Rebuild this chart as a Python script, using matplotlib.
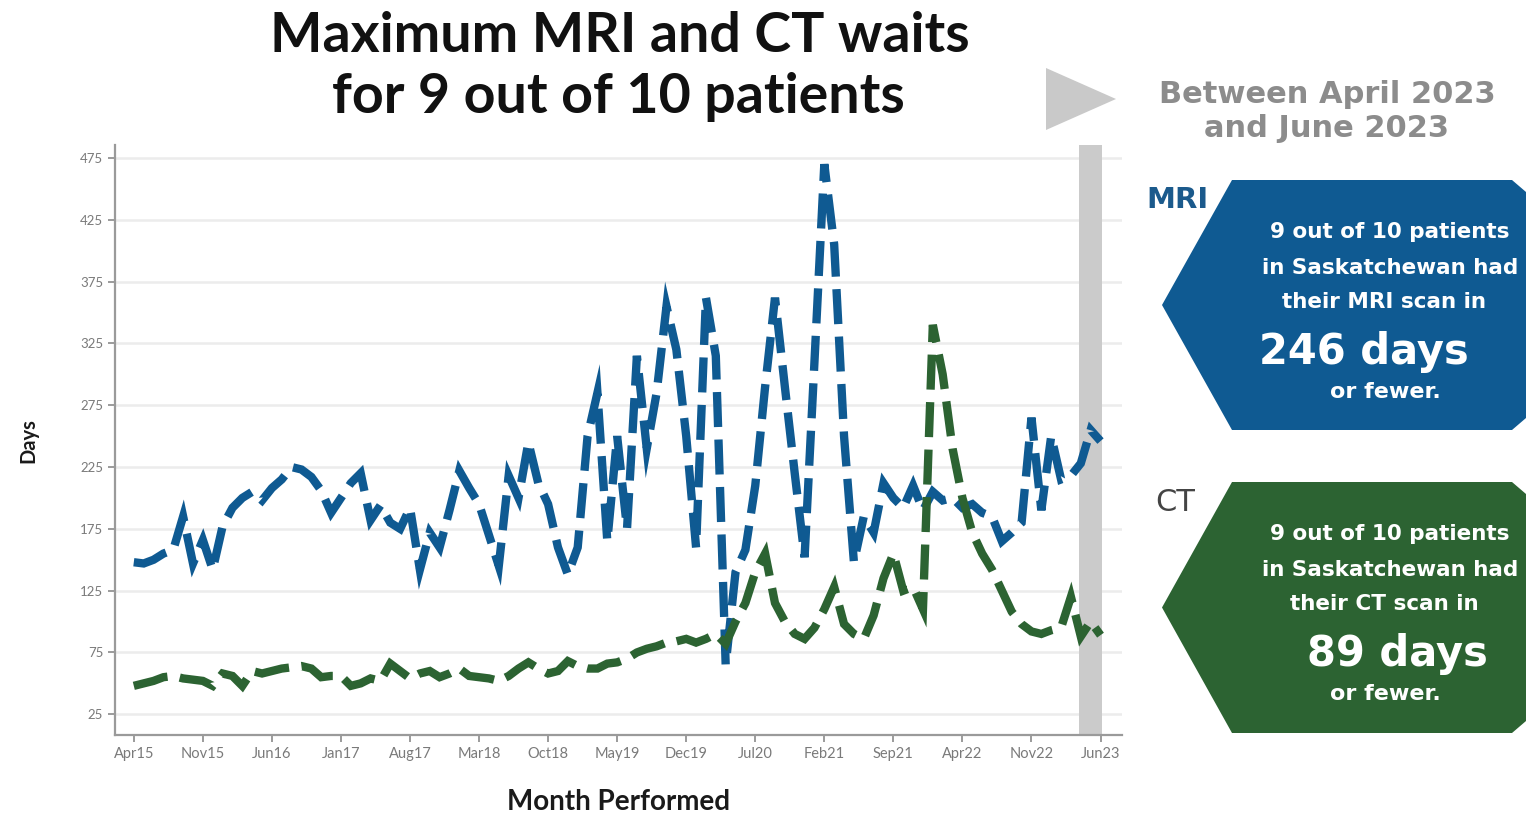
import matplotlib
matplotlib.use("Agg")
import matplotlib.pyplot as plt
from matplotlib.patches import Polygon
import numpy as np

# monthly values, Apr 2015 .. Jun 2023 (99 months)
mri_days = [148, 147, 150, 155, 158, 185, 147, 166, 142, 177,
            192, 200, 205, 198, 208, 215, 225, 223, 217, 206,
            188, 200, 212, 220, 182, 194, 180, 175, 192, 142,
            172, 160, 190, 222, 208, 195, 170, 145, 218, 200,
            245, 212, 195, 160, 138, 160, 250, 285, 165, 250,
            175, 315, 240, 285, 355, 320, 250, 160, 362, 315,
            65, 140, 158, 210, 290, 362, 290, 220, 152, 310,
            470, 405, 250, 148, 185, 172, 212, 200, 192, 210,
            190, 205, 198, 200, 192, 195, 188, 185, 165, 172,
            180, 265, 190, 250, 215, 218, 228, 255, 246]
ct_days = [48, 50, 52, 55, 56, 54, 53, 52, 48, 58,
           56, 48, 60, 58, 60, 62, 63, 64, 62, 55,
           56, 56, 48, 50, 54, 52, 66, 60, 54, 58,
           60, 55, 58, 62, 56, 55, 54, 52, 56, 62,
           67, 62, 58, 60, 68, 64, 62, 62, 66, 67,
           70, 75, 78, 80, 83, 84, 86, 83, 86, 90,
           82, 100, 115, 140, 155, 115, 100, 90, 86, 95,
           110, 128, 98, 90, 86, 105, 135, 155, 125, 128,
           110, 340, 300, 240, 200, 172, 155, 142, 125, 108,
           98, 92, 90, 93, 95, 120, 88, 100, 89]
tick_labels = ["Apr15", "Nov15", "Jun16", "Jan17", "Aug17", "Mar18", "Oct18", "May19",
               "Dec19", "Jul20", "Feb21", "Sep21", "Apr22", "Nov22", "Jun23"]
y_ticks = [25, 75, 125, 175, 225, 275, 325, 375, 425, 475]
latest_mri = 246
latest_ct = 89

BLUE = "#0f5a92"
GREEN = "#2c6332"

months = np.arange(len(mri_days))

fig = plt.figure(figsize=(15.26, 8.17), dpi=100)
ax = fig.add_axes([0.0754, 0.100, 0.660, 0.7225])

# shaded latest quarter
ax.axvspan(months[-3] - 0.15, months[-1] + 0.2, color="#cbcbcb", zorder=1, lw=0)

dash = (0, (4.2, 1.5))
ax.plot(months, mri_days, color=BLUE, lw=6, linestyle=dash,
        solid_joinstyle="miter", dash_joinstyle="miter", dash_capstyle="butt", zorder=3)
ax.plot(months, ct_days, color=GREEN, lw=6, linestyle=dash,
        solid_joinstyle="miter", dash_joinstyle="miter", dash_capstyle="butt", zorder=4)

ax.set_xlim(-1.9, 100.2)
ax.set_ylim(8, 485.5)
ax.set_yticks(y_ticks)
ax.set_yticklabels([str(v) for v in y_ticks])
ax.set_xticks(months[::7])
ax.set_xticklabels(tick_labels)
ax.grid(axis="y", color="#ececec", lw=1.8, zorder=0)
ax.set_axisbelow(True)
for s in ["top", "right"]:
    ax.spines[s].set_visible(False)
for s in ["left", "bottom"]:
    ax.spines[s].set_color("#9a9a9a")
    ax.spines[s].set_linewidth(1.6)
ax.tick_params(axis="both", colors="#8a8a8a", labelcolor="#7a7a7a", length=5, width=1.2)
for lab in ax.get_xticklabels():
    lab.set_family("Lato")
    lab.set_fontsize(10.5)
for lab in ax.get_yticklabels():
    lab.set_family("Lato")
    lab.set_fontsize(9.5)
ax.set_xlabel("Month Performed", family="Lato", fontweight="bold", fontsize=20,
              color="#1a1a1a", labelpad=20)
ax.set_ylabel("Days", family="Lato", fontweight="bold", fontsize=14.5,
              color="#1a1a1a", labelpad=30)

# overlay in pixel coordinates for title and right-hand panel
ov = fig.add_axes([0, 0, 1, 1], zorder=5)
ov.set_xlim(0, 1526)
ov.set_ylim(817, 0)
ov.axis("off")
ov.patch.set_alpha(0)

ov.text(620, 36, "Maximum MRI and CT waits", ha="center", va="center",
        family="Lato", fontweight="bold", fontsize=40, color="#111111")
ov.text(618, 97, "for 9 out of 10 patients", ha="center", va="center",
        family="Lato", fontweight="bold", fontsize=40, color="#111111")

ov.add_patch(Polygon([(1046, 68), (1116, 99), (1046, 130)], closed=True,
                     color="#c9c9c9", lw=0))
ov.text(1327, 94, "Between April 2023", ha="center", va="center",
        fontsize=22, fontweight="bold", color="#8c8c8c")
ov.text(1327, 128, "and June 2023", ha="center", va="center",
        fontsize=22, fontweight="bold", color="#8c8c8c")

ov.text(1146, 200, "MRI", ha="left", va="center", fontsize=21, fontweight="bold",
        color="#1b5a8c")
ov.text(1155, 502, "CT", ha="left", va="center", fontsize=22, color="#444444")


def callout(top, bottom, color, scan, days, days_x):
    mid = (top + bottom) / 2
    pts = [(1162, mid), (1232, top), (1512, top), (1526, top + 12),
           (1526, bottom - 12), (1512, bottom), (1232, bottom)]
    ov.add_patch(Polygon(pts, closed=True, color=color, lw=0))
    kw = dict(ha="center", va="center", color="white", fontweight="bold")
    ov.text(1390, top + 52, "9 out of 10 patients", fontsize=15.5, **kw)
    ov.text(1390, top + 88, "in Saskatchewan had", fontsize=15.5, **kw)
    ov.text(1384, top + 122, f"their {scan} scan in", fontsize=15.5, **kw)
    ov.text(days_x, top + 172, f"{days} days", fontsize=30, **kw)
    ov.text(1385, top + 212, "or fewer.", fontsize=16, **kw)


callout(180, 430, BLUE, "MRI", latest_mri, 1364)
callout(482, 733, GREEN, "CT", latest_ct, 1397)

fig.savefig("out.png", dpi=100)
